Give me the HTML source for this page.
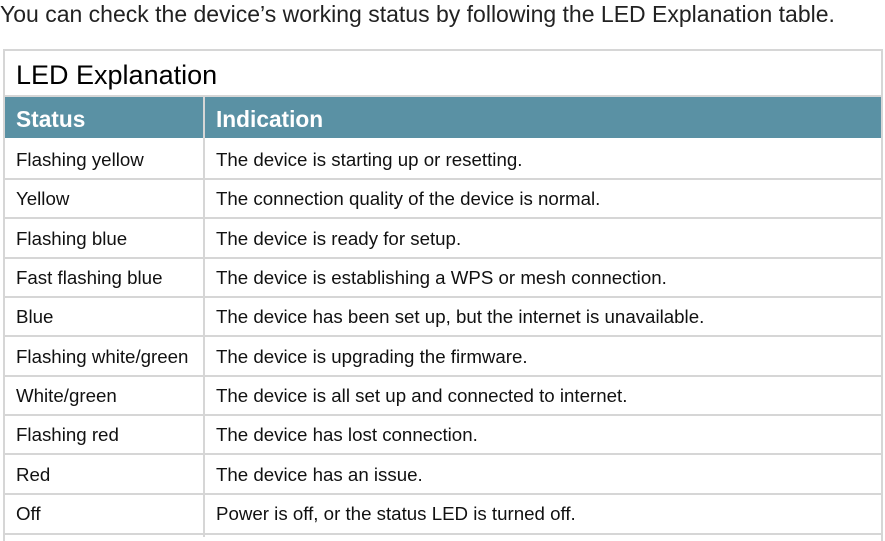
<!DOCTYPE html>
<html><head><style>
body{margin:0;width:885px;height:535px;background:#fff;font-family:"Liberation Sans",sans-serif;position:relative;overflow:hidden;color:#111}
.t{position:absolute;left:0;top:1px;font-size:23px;color:#222;white-space:nowrap}
.box{position:absolute;left:3px;top:49px;width:876px;height:490px;border:2px solid #d6d6d6;border-bottom:none}
.title{position:absolute;left:16px;top:60px;font-size:27px;color:#000}
.hdr{position:absolute;left:5px;top:97px;width:876px;height:41px;background:#5a91a4}
.hdr span{position:absolute;top:9px;color:#fff;font-weight:bold;font-size:22.7px}
.h{position:absolute;left:5px;width:876px;height:2px;background:#d6d6d6}
.v{position:absolute;left:203px;top:97px;width:2px;height:440px;background:#d6d6d6}
.c{position:absolute;font-size:18.7px;white-space:nowrap}
</style></head><body>
<div class="t">You can check the device’s working status by following the LED Explanation table.</div>
<div class="box"></div>
<div class="h" style="top:95px"></div>
<div class="title">LED Explanation</div>
<div class="hdr"><span style="left:11px">Status</span><span style="left:211px">Indication</span></div>
<div class="v"></div>
<div class="h" style="top:178px"></div>
<div class="h" style="top:217px"></div>
<div class="h" style="top:257px"></div>
<div class="h" style="top:296px"></div>
<div class="h" style="top:335px"></div>
<div class="h" style="top:375px"></div>
<div class="h" style="top:414px"></div>
<div class="h" style="top:453px"></div>
<div class="h" style="top:493px"></div>
<div class="h" style="top:533px"></div>
<div class="c" style="left:16px;top:149px">Flashing yellow</div><div class="c" style="left:216px;top:149px">The device is starting up or resetting.</div>
<div class="c" style="left:16px;top:188px">Yellow</div><div class="c" style="left:216px;top:188px">The connection quality of the device is normal.</div>
<div class="c" style="left:16px;top:228px">Flashing blue</div><div class="c" style="left:216px;top:228px">The device is ready for setup.</div>
<div class="c" style="left:16px;top:267px">Fast flashing blue</div><div class="c" style="left:216px;top:267px">The device is establishing a WPS or mesh connection.</div>
<div class="c" style="left:16px;top:306px">Blue</div><div class="c" style="left:216px;top:306px">The device has been set up, but the internet is unavailable.</div>
<div class="c" style="left:16px;top:346px">Flashing white/green</div><div class="c" style="left:216px;top:346px">The device is upgrading the firmware.</div>
<div class="c" style="left:16px;top:385px">White/green</div><div class="c" style="left:216px;top:385px">The device is all set up and connected to internet.</div>
<div class="c" style="left:16px;top:424px">Flashing red</div><div class="c" style="left:216px;top:424px">The device has lost connection.</div>
<div class="c" style="left:16px;top:464px">Red</div><div class="c" style="left:216px;top:464px">The device has an issue.</div>
<div class="c" style="left:16px;top:503px">Off</div><div class="c" style="left:216px;top:503px">Power is off, or the status LED is turned off.</div>
</body></html>
